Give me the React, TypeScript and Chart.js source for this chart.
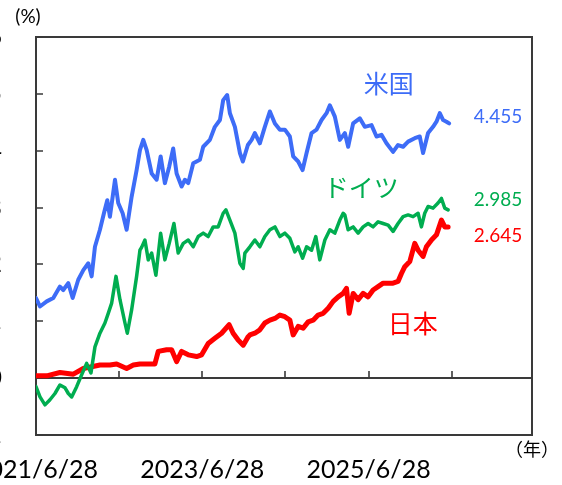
import React, { useEffect, useRef } from 'react';
import { Chart, registerables } from 'chart.js';

Chart.register(...registerables);

// ---- data ----
const START_YEAR = 2021;
const START_MONTH = 6;
const START_DAY = 28;

const seriesNames = ['米国', 'ドイツ', '日本'];
const latestValues = [4.455, 2.985, 2.645];

const yTickValues = [-1, 0, 1, 2, 3, 4, 5, 6];
const xTickYears = [0, 1, 2, 3, 4, 5];
const xLabelYears = [0, 2, 4];

// [years since 2021/6/28, yield %]
const usData: [number, number][] = [
  [0, 1.41], [0.048, 1.26], [0.129, 1.35], [0.208, 1.41], [0.288, 1.61], [0.328, 1.55],
  [0.388, 1.67], [0.441, 1.41], [0.508, 1.73], [0.569, 1.9], [0.629, 2.02], [0.669, 1.79],
  [0.709, 2.31], [0.769, 2.61], [0.817, 2.9], [0.857, 3.13], [0.889, 2.84], [0.95, 3.49],
  [0.989, 3.08], [1.042, 2.9], [1.09, 2.61], [1.15, 3.19], [1.21, 3.66], [1.25, 4.01],
  [1.29, 4.19], [1.331, 4.01], [1.391, 3.6], [1.451, 3.49], [1.499, 3.9], [1.55, 3.43],
  [1.602, 3.72], [1.65, 4.04], [1.691, 3.6], [1.751, 3.37], [1.791, 3.49], [1.831, 3.43],
  [1.891, 3.78], [1.971, 3.84], [2.011, 4.07], [2.091, 4.19], [2.151, 4.42], [2.212, 4.54],
  [2.251, 4.89], [2.299, 4.98], [2.332, 4.66], [2.392, 4.42], [2.452, 3.96], [2.488, 3.81],
  [2.548, 4.1], [2.593, 4.19], [2.632, 4.31], [2.692, 4.13], [2.752, 4.42], [2.813, 4.69],
  [2.873, 4.48], [2.933, 4.37], [2.993, 4.37], [3.053, 4.25], [3.093, 3.9], [3.153, 3.81],
  [3.206, 3.66], [3.254, 3.96], [3.314, 4.31], [3.374, 4.37], [3.434, 4.54], [3.494, 4.66],
  [3.534, 4.8], [3.594, 4.6], [3.654, 4.19], [3.714, 4.31], [3.754, 4.07], [3.814, 4.48],
  [3.894, 4.57], [3.954, 4.42], [4.035, 4.45], [4.095, 4.25], [4.155, 4.28], [4.215, 4.13],
  [4.294, 3.98], [4.354, 4.1], [4.415, 4.07], [4.475, 4.16], [4.555, 4.22], [4.615, 4.25],
  [4.655, 3.96], [4.715, 4.31], [4.775, 4.42], [4.816, 4.51], [4.856, 4.66], [4.896, 4.54],
  [4.936, 4.51], [4.968, 4.48],
];

const deData: [number, number][] = [
  [0, -0.15], [0.048, -0.33], [0.108, -0.47], [0.168, -0.38], [0.228, -0.27], [0.288, -0.12],
  [0.349, -0.17], [0.389, -0.27], [0.429, -0.33], [0.489, -0.15], [0.549, 0.06], [0.609, 0.26],
  [0.661, 0.09], [0.709, 0.55], [0.769, 0.79], [0.829, 0.97], [0.869, 1.14], [0.91, 1.32],
  [0.962, 1.79], [1.01, 1.38], [1.07, 0.97], [1.098, 0.79], [1.15, 1.2], [1.21, 1.79],
  [1.25, 2.25], [1.27, 2.3], [1.31, 2.43], [1.35, 2.08], [1.391, 2.2], [1.442, 1.81],
  [1.499, 2.55], [1.55, 2.08], [1.602, 2.37], [1.659, 2.72], [1.71, 2.2], [1.771, 2.37],
  [1.831, 2.43], [1.891, 2.31], [1.951, 2.49], [2.011, 2.55], [2.071, 2.49], [2.131, 2.66],
  [2.191, 2.66], [2.251, 2.9], [2.284, 2.96], [2.332, 2.78], [2.392, 2.55], [2.452, 2.02],
  [2.492, 1.93], [2.512, 2.2], [2.572, 2.31], [2.632, 2.43], [2.692, 2.31], [2.752, 2.49],
  [2.813, 2.61], [2.873, 2.66], [2.933, 2.49], [2.993, 2.55], [3.053, 2.46], [3.113, 2.22],
  [3.153, 2.31], [3.206, 2.11], [3.254, 2.31], [3.314, 2.25], [3.365, 2.49], [3.413, 2.08],
  [3.474, 2.43], [3.534, 2.61], [3.594, 2.55], [3.654, 2.78], [3.694, 2.9], [3.714, 2.87],
  [3.754, 2.61], [3.814, 2.66], [3.874, 2.55], [3.934, 2.66], [3.994, 2.72], [4.054, 2.66],
  [4.114, 2.75], [4.175, 2.72], [4.235, 2.69], [4.294, 2.58], [4.354, 2.72], [4.415, 2.84],
  [4.475, 2.87], [4.535, 2.84], [4.595, 2.9], [4.635, 2.66], [4.675, 2.9], [4.715, 3.02],
  [4.775, 2.99], [4.835, 3.08], [4.876, 3.16], [4.916, 2.99], [4.956, 2.96],
];

const jpData: [number, number][] = [
  [0, 0.04], [0.129, 0.04], [0.288, 0.1], [0.449, 0.07], [0.569, 0.17], [0.669, 0.2],
  [0.769, 0.23], [0.889, 0.23], [0.97, 0.25], [1.09, 0.17], [1.17, 0.23], [1.25, 0.25],
  [1.43, 0.25], [1.47, 0.47], [1.571, 0.5], [1.631, 0.5], [1.691, 0.29], [1.751, 0.47],
  [1.831, 0.41], [1.932, 0.38], [1.992, 0.41], [2.071, 0.61], [2.151, 0.7], [2.232, 0.79],
  [2.323, 0.94], [2.371, 0.79], [2.431, 0.67], [2.492, 0.58], [2.552, 0.73], [2.572, 0.76],
  [2.632, 0.79], [2.692, 0.85], [2.752, 0.97], [2.813, 1.02], [2.873, 1.05], [2.933, 1.11],
  [2.993, 1.08], [3.053, 1.02], [3.093, 0.76], [3.153, 0.91], [3.213, 0.88], [3.273, 0.99],
  [3.333, 1.02], [3.393, 1.11], [3.454, 1.14], [3.514, 1.23], [3.574, 1.35], [3.634, 1.43],
  [3.694, 1.49], [3.734, 1.58], [3.766, 1.14], [3.814, 1.49], [3.874, 1.38], [3.934, 1.49],
  [3.994, 1.43], [4.054, 1.55], [4.114, 1.61], [4.175, 1.67], [4.235, 1.67], [4.294, 1.67],
  [4.354, 1.7], [4.395, 1.84], [4.435, 1.96], [4.495, 2.05], [4.555, 2.37], [4.595, 2.25],
  [4.655, 2.14], [4.695, 2.31], [4.756, 2.43], [4.816, 2.52], [4.876, 2.78], [4.916, 2.66],
  [4.956, 2.66],
];

// ---- style / layout ----
const X_MAX = 5.965;
const Y_MIN = -1;
const Y_MAX = 6;
const SHIFT = 40; // the picture is cropped on its left side
const W = 562 + SHIFT;
const H = 485;
const COLORS = ['#3D6CF7', '#00AD50', '#FF0000'];
const WIDTHS = [4, 3.5, 5];
const AXIS_COLOR = '#3a3a3a';
const NUM_FONT = 'Lato, "Noto Sans", sans-serif';
const JP_FONT = '"Noto Sans CJK JP", sans-serif';
const nameLabelPos: [number, number][] = [[4.243, 5.19], [3.912, 3.345], [4.531, 0.953]];
const valueLabelPos: [number, number][] = [[5.264, 4.594], [5.264, 3.134], [5.264, 2.5]];

const yearLabel = (t: number) => `${START_YEAR + t}/${START_MONTH}/${START_DAY}`;

const decorPlugin = {
  id: 'decor',
  beforeDatasetsDraw(chart: any) {
    const { ctx, chartArea: a, scales } = chart;
    const x = scales.x;
    const y = scales.y;
    ctx.save();
    ctx.strokeStyle = AXIS_COLOR;
    ctx.lineWidth = 2;
    ctx.strokeRect(a.left, a.top, a.right - a.left, a.bottom - a.top);
    const y0 = Math.round(y.getPixelForValue(0));
    ctx.beginPath();
    ctx.moveTo(a.left, y0);
    ctx.lineTo(a.right, y0);
    ctx.stroke();
    ctx.lineWidth = 1.6;
    ctx.beginPath();
    yTickValues.forEach((v) => {
      const py = Math.round(y.getPixelForValue(v));
      ctx.moveTo(a.left, py);
      ctx.lineTo(a.left + 7, py);
    });
    xTickYears.forEach((t) => {
      const px = Math.round(x.getPixelForValue(t));
      ctx.moveTo(px, y0);
      ctx.lineTo(px, y0 - 7);
    });
    ctx.stroke();
    ctx.restore();
  },
  afterDatasetsDraw(chart: any) {
    const { ctx, chartArea: a, scales } = chart;
    const x = scales.x;
    const y = scales.y;
    ctx.save();
    ctx.textBaseline = 'middle';
    ctx.textAlign = 'center';
    ctx.font = `25px ${JP_FONT}`;
    seriesNames.forEach((name, i) => {
      ctx.fillStyle = COLORS[i];
      ctx.fillText(name, x.getPixelForValue(nameLabelPos[i][0]), y.getPixelForValue(nameLabelPos[i][1]));
    });
    ctx.textAlign = 'left';
    ctx.font = `19px ${NUM_FONT}`;
    latestValues.forEach((v, i) => {
      ctx.fillStyle = COLORS[i];
      ctx.fillText(v.toFixed(3), x.getPixelForValue(valueLabelPos[i][0]), y.getPixelForValue(valueLabelPos[i][1]));
    });
    ctx.fillStyle = '#000';
    ctx.textAlign = 'center';
    ctx.font = `18px ${JP_FONT}`;
    ctx.fillText('（年）', a.right, a.bottom + 14);
    ctx.font = `19px ${NUM_FONT}`;
    ctx.fillText('(%)', SHIFT + 28, 17);
    ctx.restore();
  },
};

export default function App() {
  const ref = useRef<HTMLCanvasElement>(null);

  useEffect(() => {
    if (!ref.current) return;
    const toPoints = (d: [number, number][]) => d.map(([t, v]) => ({ x: t, y: v }));
    const datasets = [usData, deData, jpData].map((d, i) => ({
      label: seriesNames[i],
      data: toPoints(d),
      borderColor: COLORS[i],
      backgroundColor: COLORS[i],
      borderWidth: WIDTHS[i],
      pointRadius: 0,
      tension: 0,
      borderJoinStyle: 'round' as const,
      borderCapStyle: 'round' as const,
    }));
    const chart = new Chart(ref.current, {
      type: 'line',
      data: { datasets },
      options: {
        responsive: false,
        animation: false,
        layout: { padding: { top: 37, right: 30, left: 0, bottom: 0 } },
        plugins: { legend: { display: false }, tooltip: { enabled: false } },
        scales: {
          x: {
            type: 'linear',
            min: 0,
            max: X_MAX,
            grid: { display: false, drawTicks: true, tickLength: 20 },
            border: { display: false },
            afterBuildTicks: (s: any) => {
              s.ticks = xTickYears.map((v) => ({ value: v }));
            },
            afterFit: (s: any) => {
              s.height = 50;
            },
            ticks: {
              autoSkip: false,
              maxRotation: 0,
              minRotation: 0,
              padding: 0,
              color: '#000',
              font: { family: NUM_FONT, size: 25 },
              callback: (v: any) => (xLabelYears.includes(Number(v)) ? yearLabel(Number(v)) : ''),
            },
          },
          y: {
            type: 'linear',
            min: Y_MIN,
            max: Y_MAX,
            grid: { display: false, drawTicks: true, tickLength: 34 },
            border: { display: false },
            afterBuildTicks: (s: any) => {
              s.ticks = yTickValues.map((v) => ({ value: v }));
            },
            afterFit: (s: any) => {
              s.width = SHIFT + 36;
            },
            ticks: {
              padding: 0,
              color: '#000',
              font: { family: NUM_FONT, size: 25 },
            },
          },
        },
      },
      plugins: [decorPlugin],
    });
    return () => chart.destroy();
  }, []);

  return (
    <div style={{ position: 'absolute', left: -SHIFT, top: 0, width: W, height: H, background: '#fff' }}>
      <canvas ref={ref} width={W} height={H} style={{ display: 'block' }} />
    </div>
  );
}
